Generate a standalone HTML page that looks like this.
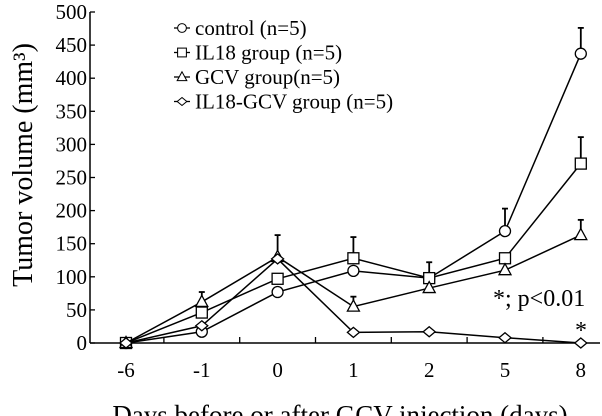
<!DOCTYPE html>
<html><head><meta charset="utf-8"><style>
html,body{margin:0;padding:0;background:#fff;width:602px;height:416px;overflow:hidden}
svg{display:block;font-family:"Liberation Serif",serif}
</style></head><body>
<svg id="chart" width="602" height="416" viewBox="0 0 602 416"></svg>
<script>
const categories = ["-6","-1","0","1","2","5","8"];
const yTicks = [0,50,100,150,200,250,300,350,400,450,500];
const controlValues = [0,17,77,109,98,169,437];
const il18Values = [0,46,97,128,98,128,271];
const gcvValues = [0,62,130,55,83,110,163];
const comboValues = [0,26,127,16,17,8,0];
const controlErr = [null,null,null,null,null,203,476];
const il18Err = [null,null,null,160,122,null,311];
const gcvErr = [null,77,163,70,null,null,186];
const comboErr = [null,null,null,null,null,null,null];
const seriesNames = ["control (n=5)","IL18 group (n=5)","GCV group(n=5)","IL18-GCV group (n=5)"];

const NS="http://www.w3.org/2000/svg";
const svg=document.getElementById('chart');
const x0=90,xEnd=600,y0=343,yTop=12;
function xs(i){return 126+i*75.8;}
function ys(v){return y0-(v/500)*(y0-yTop);}
function mk(t,a,p){const e=document.createElementNS(NS,t);for(const k in a)e.setAttribute(k,a[k]);(p||svg).appendChild(e);return e;}

const axes=mk('g',{});


mk('line',{x1:x0,y1:y0,x2:xEnd,y2:y0,stroke:'#000','stroke-width':1.5},axes);
mk('line',{x1:x0,y1:y0,x2:x0,y2:yTop,stroke:'#000','stroke-width':1.5},axes);
yTicks.forEach(v=>{
  mk('line',{x1:x0,y1:ys(v),x2:x0+5,y2:ys(v),stroke:'#000','stroke-width':1.3},axes);
  const t=mk('text',{x:x0-3,y:ys(v)+7,'text-anchor':'end','font-size':21},axes);
  t.textContent=v;
  
  
});
categories.forEach((c,i)=>{
  if(i<categories.length-1) mk('line',{x1:xs(i)+37.9,y1:y0,x2:xs(i)+37.9,y2:y0-6,stroke:'#000','stroke-width':1.3},axes);
  const t=mk('text',{x:xs(i),y:y0+34,'text-anchor':'middle','font-size':21},axes);
  t.textContent=c;
  
  
});
const yt=mk('text',{x:0,y:0,'text-anchor':'middle','font-size':28,transform:'translate(32,165) rotate(-90)'});
yt.textContent='Tumor volume (mm³)';


const xt=mk('text',{x:340,y:424,'text-anchor':'middle','font-size':27});
xt.textContent='Days before or after GCV injection (days)';



function marker(type,x,y,g){
  const a={fill:'#fff',stroke:'#000','stroke-width':1.3};
  if(type==0) return mk('circle',Object.assign({cx:x,cy:y,r:5.5},a),g);
  if(type==1) return mk('rect',Object.assign({x:x-5.5,y:y-5.5,width:11,height:11},a),g);
  if(type==2) return mk('polygon',Object.assign({points:`${x},${y-6.5} ${x-6},${y+4.5} ${x+6},${y+4.5}`},a),g);
  return mk('polygon',Object.assign({points:`${x},${y-5} ${x+6},${y} ${x},${y+5} ${x-6},${y}`},a),g);
}
const allVals=[controlValues,il18Values,gcvValues,comboValues];
const allErr=[controlErr,il18Err,gcvErr,comboErr];
const snames=['series-control','series-il18','series-gcv','series-il18-gcv'];
allVals.forEach((vals,s)=>{
  const g=mk('g',{});
  
  
  allErr[s].forEach((e,i)=>{
    if(e==null)return;
    mk('line',{x1:xs(i),y1:ys(vals[i]),x2:xs(i),y2:ys(e),stroke:'#000','stroke-width':1.8},g);
    mk('line',{x1:xs(i)-3,y1:ys(e),x2:xs(i)+3,y2:ys(e),stroke:'#000','stroke-width':1.8},g);
  });
  mk('polyline',{points:vals.map((v,i)=>xs(i)+','+ys(v)).join(' '),fill:'none',stroke:'#000','stroke-width':1.5},g);
  vals.forEach((v,i)=>marker(s,xs(i),ys(v),g));
});
const lg=mk('g',{});


seriesNames.forEach((n,i)=>{
  const y=28+i*24.5;
  const e=mk('g',{},lg);
  
  
  mk('line',{x1:174,y1:y,x2:190,y2:y,stroke:'#000','stroke-width':1.3},e);
  marker(i,182,y,e).setAttribute('transform',`translate(${182*0.2},${y*0.2}) scale(0.8)`);
  const t=mk('text',{x:195,y:y+7,'font-size':21},e);
  t.textContent=n;
});
const p=mk('text',{x:493,y:306,'font-size':24});
p.textContent='*; p<0.01';


const st=mk('text',{x:581,y:338,'text-anchor':'middle','font-size':24});
st.textContent='*';


</script>
</body></html>
